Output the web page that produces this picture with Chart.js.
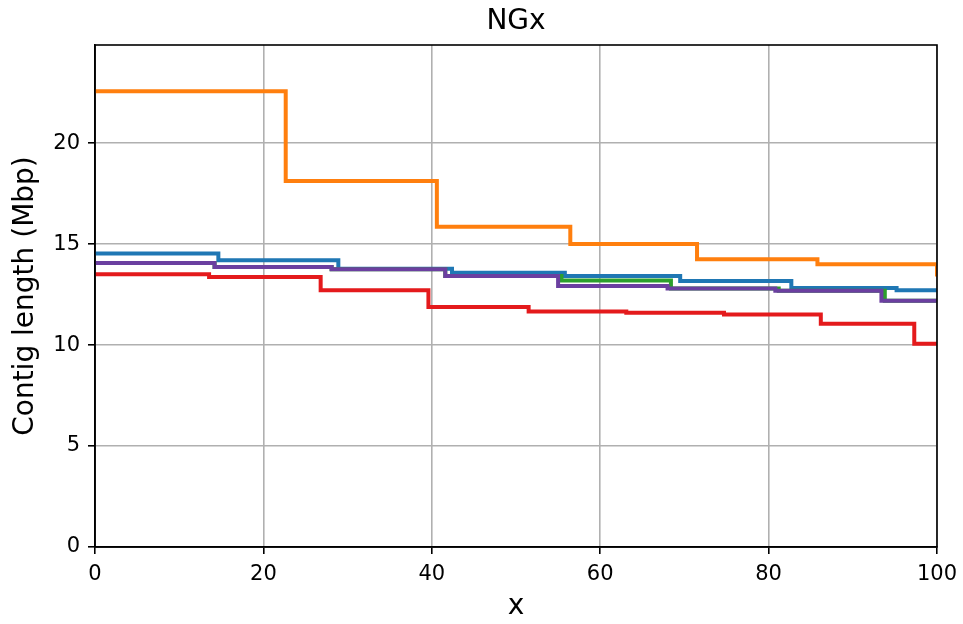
<!DOCTYPE html>
<html>
<head>
<meta charset="utf-8">
<script src="https://cdn.jsdelivr.net/npm/chart.js@4.4.1/dist/chart.umd.min.js"></script>
<style>
  html, body { margin: 0; padding: 0; background: #ffffff; }
  #wrap { width: 963px; height: 624px; position: relative; }
</style>
</head>
<body>
<div id="wrap"><canvas id="chart"></canvas></div>
<script>
// Axis ticks
const xTicks = [0, 20, 40, 60, 80, 100];
const yTicks = [0, 5, 10, 15, 20];
const yMax = 24.86;

// NGx curves: x where each contig step starts, and its length in Mbp
const blueX   = [0, 14.65, 28.9, 42.4, 55.8, 69.5, 82.7, 95.2, 100];
const blueY   = [14.54, 14.2, 13.78, 13.58, 13.42, 13.17, 12.83, 12.71, 12.71];

const orangeX = [0, 22.65, 40.6, 56.45, 71.5, 85.8, 100];
const orangeY = [22.57, 18.13, 15.86, 15.0, 14.25, 14.0, 13.4];

const greenX  = [0, 14.2, 28.1, 41.6, 55.4, 68.4, 81.2, 93.8, 100];
const greenY  = [14.06, 13.87, 13.75, 13.42, 13.2, 12.8, 12.69, 12.19, 12.19];

const redX    = [0, 13.55, 26.8, 39.6, 51.5, 63.1, 74.7, 86.2, 97.3, 100];
const redY    = [13.51, 13.37, 12.72, 11.88, 11.66, 11.6, 11.51, 11.05, 10.06, 10.06];

const purpleX = [0, 14.2, 28.1, 41.6, 55.0, 68.0, 80.8, 93.4, 100];
const purpleY = [14.06, 13.87, 13.75, 13.42, 12.93, 12.8, 12.69, 12.19, 12.19];

const toPoints = (xs, ys) => xs.map((x, i) => ({ x: x, y: ys[i] }));

function stepSeries(label, xs, ys, color, order) {
  return {
    label: label,
    data: toPoints(xs, ys),
    borderColor: color,
    backgroundColor: color,
    borderWidth: 4,
    pointRadius: 0,
    stepped: 'before',
    fill: false,
    order: order
  };
}

// Draws the top and right sides of the axes frame
const frame = {
  id: 'frame',
  afterDatasetsDraw(chart) {
    const { ctx, chartArea: a } = chart;
    ctx.save();
    ctx.strokeStyle = '#000000';
    ctx.lineWidth = 1.6;
    ctx.strokeRect(a.left, a.top, a.right - a.left, a.bottom - a.top);
    ctx.restore();
  }
};

const FONT = "'DejaVu Sans', sans-serif";

new Chart(document.getElementById('chart'), {
  type: 'line',
  data: {
    datasets: [
      stepSeries('A', blueX, blueY, '#1f77b4', 4),
      stepSeries('B', orangeX, orangeY, '#ff7f0e', 3),
      stepSeries('C', greenX, greenY, '#2ca02c', 2),
      stepSeries('D', redX, redY, '#e41a1c', 1),
      stepSeries('E', purpleX, purpleY, '#6b3fa0', 0)
    ]
  },
  options: {
    responsive: true,
    maintainAspectRatio: false,
    animation: false,
    devicePixelRatio: 1,
    layout: { padding: { left: 0, right: 26, top: 0, bottom: 0 } },
    plugins: {
      legend: { display: false },
      tooltip: { enabled: false },
      title: {
        display: true,
        text: 'NGx',
        color: '#000000',
        fullSize: false,
        font: { family: FONT, size: 28, weight: 'normal', lineHeight: 1.2 },
        padding: { top: 5, bottom: 6.4 }
      }
    },
    scales: {
      x: {
        type: 'linear',
        min: 0,
        max: 100,
        afterFit: s => { s.height = 77; s.paddingLeft = 0; s.paddingRight = 0; },
        afterBuildTicks: s => { s.ticks = xTicks.map(v => ({ value: v })); },
        ticks: {
          color: '#000000',
          font: { family: FONT, size: 21 },
          padding: 8,
          maxRotation: 0,
          includeBounds: false
        },
        grid: {
          color: '#b0b0b0',
          lineWidth: 1.6,
          tickColor: '#000000',
          tickLength: 7,
          drawTicks: true
        },
        border: { display: true, color: '#000000', width: 1.6 },
        title: {
          display: true,
          text: 'x',
          color: '#000000',
          font: { family: FONT, size: 28, lineHeight: 1.2 },
          padding: { top: 0, bottom: 0 }
        }
      },
      y: {
        type: 'linear',
        min: 0,
        max: yMax,
        afterFit: s => { s.width = 95; s.paddingTop = 0; s.paddingBottom = 0; },
        afterBuildTicks: s => { s.ticks = yTicks.map(v => ({ value: v })); },
        ticks: {
          color: '#000000',
          font: { family: FONT, size: 21 },
          padding: 8,
          includeBounds: false
        },
        grid: {
          color: '#b0b0b0',
          lineWidth: 1.6,
          tickColor: '#000000',
          tickLength: 7,
          drawTicks: true
        },
        border: { display: true, color: '#000000', width: 1.6 },
        title: {
          display: true,
          text: 'Contig length (Mbp)',
          color: '#000000',
          font: { family: FONT, size: 28, lineHeight: 1.2 },
          padding: { top: 9, bottom: 0 }
        }
      }
    }
  },
  plugins: [frame]
});
</script>
</body>
</html>
